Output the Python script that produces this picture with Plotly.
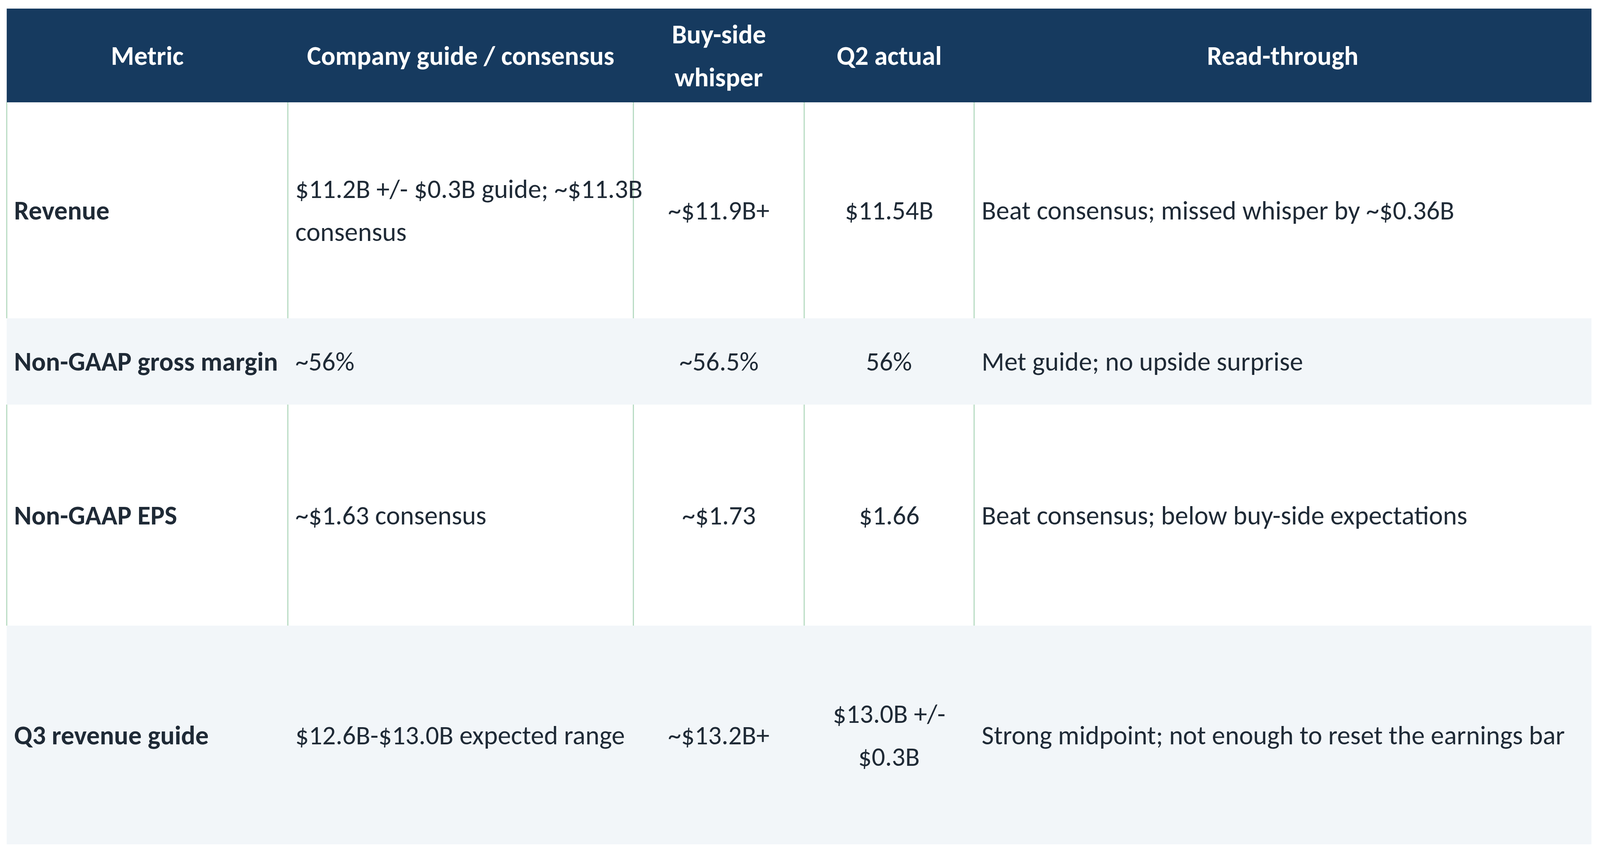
import plotly.graph_objects as go

# Table content
headers = ["Metric", "Company guide / consensus", "Buy-side\nwhisper", "Q2 actual", "Read-through"]
metrics = ["Revenue", "Non-GAAP gross margin", "Non-GAAP EPS", "Q3 revenue guide"]
guide = ["$11.2B +/- $0.3B guide; ~$11.3B\nconsensus", "~56%", "~$1.63 consensus",
         "$12.6B-$13.0B expected range"]
whisper = ["~$11.9B+", "~56.5%", "~$1.73", "~$13.2B+"]
actual = ["$11.54B", "56%", "$1.66", "$13.0B +/-\n$0.3B"]
readthrough = ["Beat consensus; missed whisper by ~$0.36B", "Met guide; no upside surprise",
               "Beat consensus; below buy-side expectations",
               "Strong midpoint; not enough to reset the earnings bar"]

# layout grid in reference pixels
W, H = 5318, 2174
col_edges = [12, 950, 2103, 2673, 3240, 5300]
row_edges = [14, 254, 807, 1028, 1594, 2154]
aligns = ["left", "left", "center", "center", "left"]
HEADER_BG = "#163a5f"
ALT_BG = "#f2f6f9"
BORDER = "#b7dbc2"
TEXT = "#1f2a36"
FONT = "Carlito, Calibri, Lato"
FS = 68
LINE = 110
PAD = 22

shapes = []
annotations = []


def px(x):
    return x / W


def py(y):
    return 1 - y / H


def add_text(text, c, r, bold=False, color=TEXT, align="left"):
    lines = text.split("\n")
    x0, x1 = col_edges[c], col_edges[c + 1]
    yc = (row_edges[r] + row_edges[r + 1]) / 2
    for i, ln in enumerate(lines):
        y = yc + (i - (len(lines) - 1) / 2) * LINE
        if align == "center":
            x, xa = (x0 + x1) / 2, "center"
        else:
            x, xa = x0 + PAD, "left"
        annotations.append(dict(x=px(x), y=py(y), xref="paper", yref="paper",
                                text=f"<b>{ln}</b>" if bold else ln,
                                showarrow=False, xanchor=xa, yanchor="middle",
                                font=dict(family=FONT, size=FS, color=color)))


def rect(x0, x1, y0, y1, fill):
    shapes.append(dict(type="rect", xref="paper", yref="paper", x0=px(x0), x1=px(x1),
                       y0=py(y0), y1=py(y1), fillcolor=fill, line_width=0, layer="below"))


# header
rect(col_edges[0], col_edges[-1], row_edges[0], row_edges[1], HEADER_BG)
for c, h in enumerate(headers):
    add_text(h, c, 0, bold=True, color="white", align="center")

rows = list(zip(metrics, guide, whisper, actual, readthrough))
for r, vals in enumerate(rows, start=1):
    fill = ALT_BG if r % 2 == 0 else "white"
    rect(col_edges[0], col_edges[-1], row_edges[r], row_edges[r + 1], fill)
    if fill == "white":
        for xe in col_edges[:-1]:
            shapes.append(dict(type="line", xref="paper", yref="paper", x0=px(xe), x1=px(xe),
                               y0=py(row_edges[r]), y1=py(row_edges[r + 1]),
                               line=dict(color=BORDER, width=3)))
    for c, v in enumerate(vals):
        add_text(v, c, r, bold=(c == 0), align=aligns[c])

fig = go.Figure()
fig.update_layout(autosize=True, margin=dict(l=0, r=0, t=0, b=0),
                  paper_bgcolor="white", plot_bgcolor="white",
                  xaxis=dict(visible=False, fixedrange=True),
                  yaxis=dict(visible=False, fixedrange=True),
                  shapes=shapes, annotations=annotations, showlegend=False)
fig.write_html("out.html", default_width="100%", default_height="100vh",
               config={"responsive": True, "displayModeBar": False})
